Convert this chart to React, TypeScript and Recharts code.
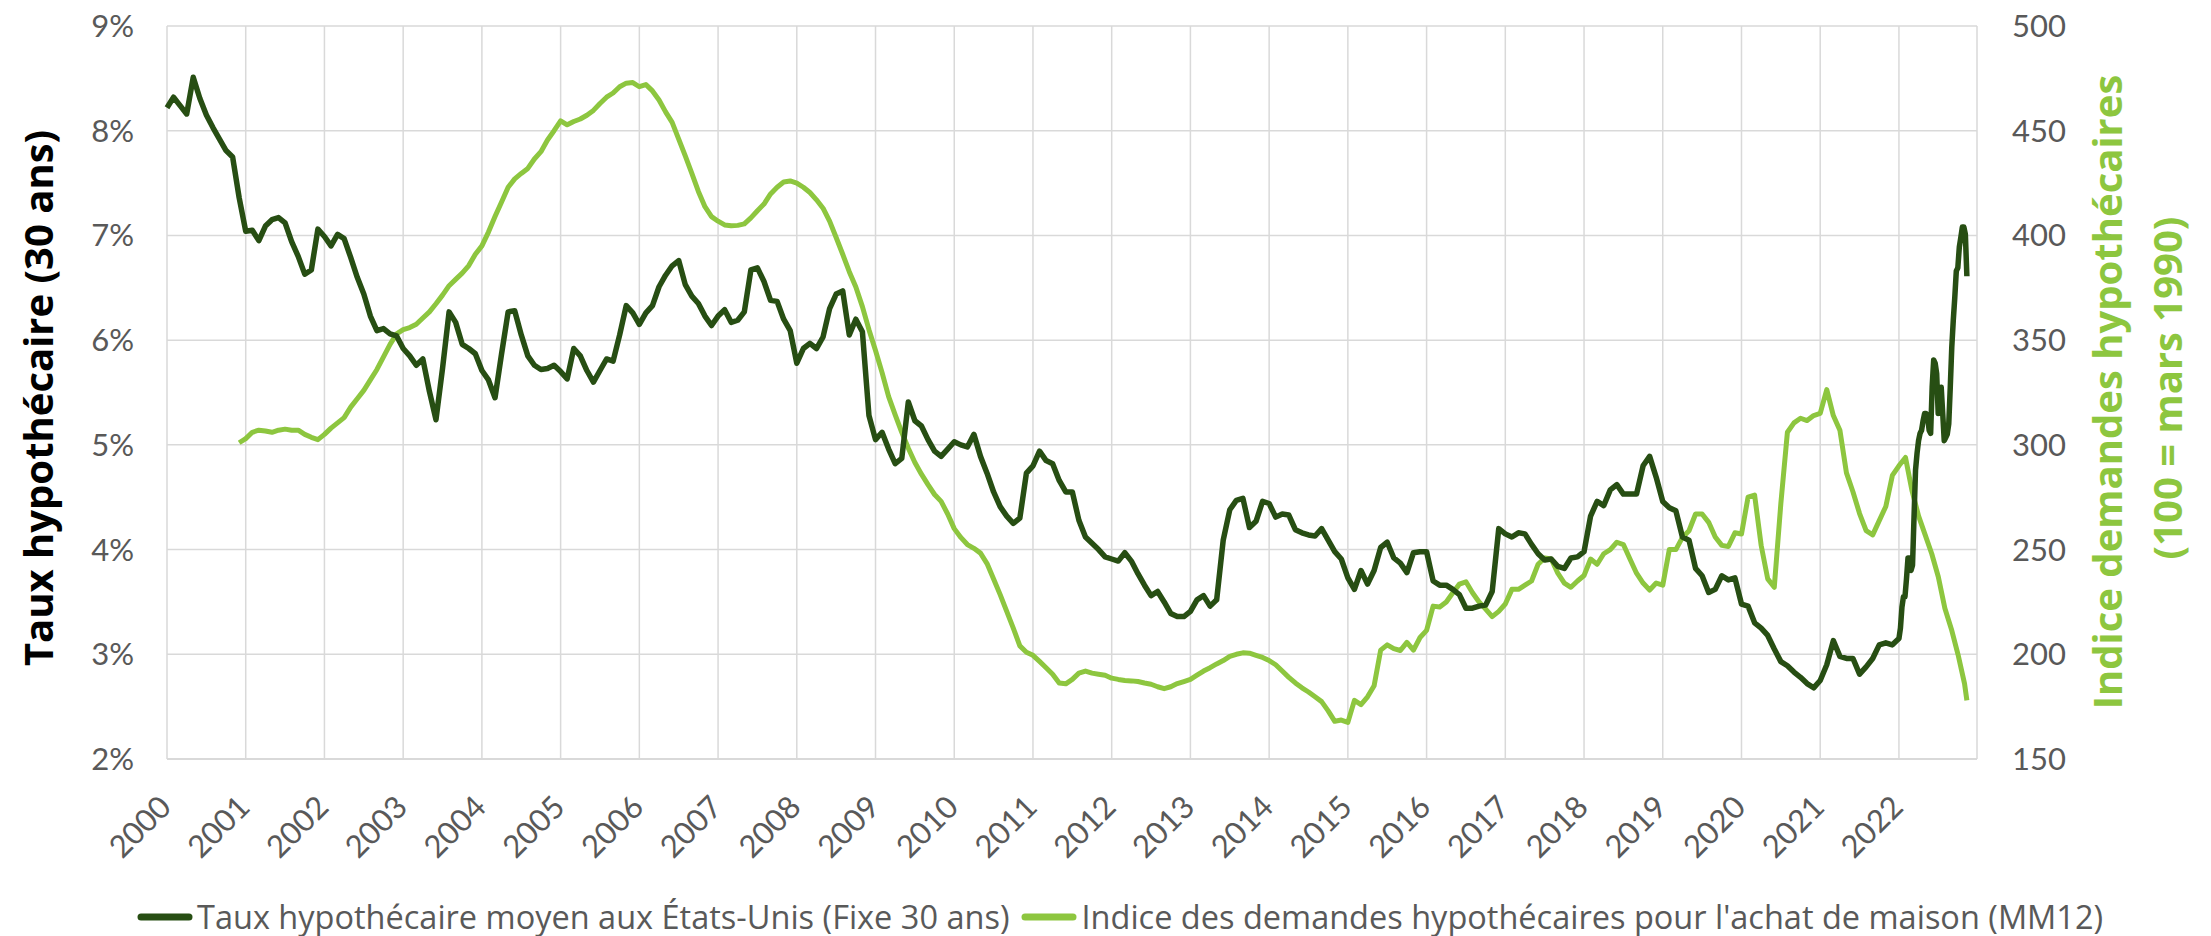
import { LineChart, Line, XAxis, YAxis, CartesianGrid, Legend, Label } from "recharts";

document.body.style.margin = "0";

const DARK = "#274E13";
const LIGHT = "#8DC63F";
const GRID = "#D9D9D9";
const TICK = "#595959";
const FONT = "Lato, 'Open Sans', sans-serif";
const TEXT_FONT = "'Open Sans', Lato, sans-serif";

// one tick per January
const years = [
  2000, 2001, 2002, 2003, 2004, 2005, 2006, 2007, 2008, 2009, 2010, 2011,
  2012, 2013, 2014, 2015, 2016, 2017, 2018, 2019, 2020, 2021, 2022,
];

// 30-year fixed rate (%), monthly, Jan 2000 -> Dec 2021
const rate2000s = [
  8.22, 8.32, 8.24, 8.16, 8.51, 8.31, 8.15, 8.03, 7.92, 7.81, 7.75, 7.36,
  7.04, 7.05, 6.95, 7.09, 7.15, 7.17, 7.12, 6.94, 6.8, 6.63, 6.67, 7.06,
  6.99, 6.9, 7.01, 6.97, 6.79, 6.6, 6.44, 6.23, 6.09, 6.11, 6.06, 6.04,
  5.92, 5.85, 5.76, 5.82, 5.51, 5.24, 5.73, 6.27, 6.17, 5.96, 5.92, 5.87,
  5.71, 5.62, 5.45, 5.87, 6.27, 6.28, 6.05, 5.85, 5.76, 5.72, 5.73, 5.76,
];
const rate2005s = [
  5.7, 5.63, 5.92, 5.85, 5.71, 5.6, 5.71, 5.82, 5.8, 6.05, 6.33, 6.26,
  6.15, 6.26, 6.33, 6.51, 6.62, 6.71, 6.76, 6.53, 6.42, 6.35, 6.23, 6.14,
  6.23, 6.29, 6.17, 6.19, 6.27, 6.67, 6.69, 6.56, 6.38, 6.37, 6.2, 6.09,
  5.78, 5.92, 5.97, 5.92, 6.03, 6.3, 6.44, 6.47, 6.05, 6.2, 6.08, 5.28,
  5.05, 5.12, 4.96, 4.82, 4.87, 5.41, 5.23, 5.18, 5.05, 4.94, 4.89, 4.96,
];
const rate2010s = [
  5.03, 5.0, 4.98, 5.1, 4.89, 4.73, 4.55, 4.41, 4.32, 4.25, 4.3, 4.73,
  4.8, 4.94, 4.85, 4.82, 4.66, 4.55, 4.55, 4.28, 4.12, 4.06, 4.0, 3.93,
  3.91, 3.89, 3.97, 3.89, 3.77, 3.66, 3.56, 3.6, 3.5, 3.39, 3.36, 3.36,
  3.41, 3.52, 3.56, 3.46, 3.52, 4.09, 4.38, 4.47, 4.49, 4.21, 4.27, 4.46,
  4.44, 4.31, 4.34, 4.33, 4.19, 4.16, 4.14, 4.13, 4.2, 4.09, 3.98, 3.91,
];
const rate2015s = [
  3.73, 3.62, 3.8, 3.67, 3.8, 4.02, 4.07, 3.92, 3.87, 3.78, 3.97, 3.98,
  3.98, 3.7, 3.66, 3.66, 3.62, 3.57, 3.44, 3.44, 3.46, 3.47, 3.6, 4.2,
  4.15, 4.12, 4.16, 4.15, 4.05, 3.96, 3.9, 3.91, 3.84, 3.82, 3.92, 3.93,
  3.98, 4.32, 4.46, 4.42, 4.57, 4.62, 4.53, 4.53, 4.53, 4.8, 4.89, 4.69,
  4.46, 4.4, 4.37, 4.12, 4.09, 3.82, 3.75, 3.59, 3.62, 3.75, 3.71, 3.73,
];
const rate2020s = [
  3.48, 3.46, 3.3, 3.25, 3.18, 3.05, 2.93, 2.89, 2.83, 2.78, 2.72, 2.68,
  2.75, 2.9, 3.13, 2.98, 2.96, 2.96, 2.81, 2.88, 2.96, 3.09, 3.11, 3.09,
];
// 2022, weekly
const rate2022 = [
  3.15, 3.25, 3.45, 3.55, 3.55, 3.72, 3.92, 3.92, 3.8, 3.85, 4.31, 4.76,
  4.92, 5.04, 5.11, 5.14, 5.23, 5.3, 5.3, 5.27, 5.14, 5.11, 5.55, 5.81,
  5.78, 5.68, 5.3, 5.49, 5.55, 5.3, 5.04, 5.07, 5.1, 5.2, 5.55, 5.93,
  6.19, 6.41, 6.66, 6.69, 6.89, 6.98, 7.08, 7.08, 7.01, 6.61,
];

// purchase applications index, 12-month average, monthly from Dec 2000
const index2000s = [
  301,
  303, 306, 307, 306.6, 306, 307, 307.5, 307, 307, 305, 303.6, 302.5,
  305, 308, 310.5, 313, 318, 322, 326, 331, 336, 342, 348, 353,
  355, 356, 357.6, 360.6, 363.5, 367.4, 371.5, 376, 379, 382, 385.6, 391,
  395, 401.6, 409, 416, 423, 427, 429.6, 432, 436.5, 440, 445.6, 450,
];
const index2005s = [
  454.7, 452.8, 454.4, 455.6, 457.4, 459.7, 463, 466, 468, 471, 472.7, 473,
  471, 472, 469, 464.7, 459, 454, 446, 438, 429.6, 421, 413.7, 409,
  406.8, 405, 404.6, 404.8, 405.5, 408.4, 411.8, 415, 419.8, 423, 425.5, 426,
  425, 423, 420.5, 417, 413, 406.8, 399, 391, 382.7, 375.4, 366, 355,
  345, 334.5, 323, 314.3, 306, 298.4, 291.6, 286, 281, 276.3, 273, 267,
];
const index2010s = [
  260, 255.8, 252.4, 250.6, 248.3, 243.3, 236, 228.5, 220.5, 212.5, 204, 201,
  199.5, 196.6, 193.6, 190.5, 186.3, 185.9, 188, 191, 192, 191, 190.5, 190,
  188.6, 188, 187.5, 187.3, 187, 186.3, 185.7, 184.5, 183.6, 184.5, 186, 187,
  188, 190, 192, 193.6, 195.4, 197, 199, 200, 200.7, 200.5, 199.5, 198.5,
  197, 195, 192, 189, 186.3, 184, 182, 179.7, 177.4, 173, 168, 168.6,
];
const index2015s = [
  167.5, 178, 176, 179.7, 185, 202, 204.5, 202.7, 201.8, 205.7, 202, 208,
  211.4, 223, 222.6, 225, 229.4, 233.5, 234.6, 229.4, 225, 221.6, 218, 220.5,
  224, 231, 231, 233, 235, 243, 246, 245.5, 238.7, 234, 232, 235,
  237.6, 245.5, 243, 248, 250, 253.5, 252.4, 245.5, 238.7, 234, 230.7, 234,
  233, 250, 250, 255.8, 259, 267, 267, 263, 256, 252, 251.5, 258,
];
const index2020s = [
  257.4, 275, 276, 252, 236, 232, 272, 306, 310.5, 312.7, 311.6, 314,
  315, 326.4, 314, 307, 286.6, 277.5, 267.2, 259, 257, 263.8, 270.6, 285.4,
  290, 294, 278, 266, 257, 248, 237, 222, 212, 200, 186,
];
const indexLastWeek = 178;

const legendItems = [
  { label: "Taux hypothécaire moyen aux États-Unis (Fixe 30 ans)", color: DARK },
  { label: "Indice des demandes hypothécaires pour l'achat de maison (MM12)", color: LIGHT },
];

type Row = { t: number; rate?: number; index?: number };

// x is months since Jan 2000
const weekT = (w: number) => 264 + (w * 12) / 52.14;

function buildData(): Row[] {
  const rows = new Map<number, Row>();
  const put = (t: number, key: "rate" | "index", v: number) => {
    const k = Math.round(t * 1000) / 1000;
    const row = rows.get(k) ?? { t: k };
    row[key] = v;
    rows.set(k, row);
  };
  [...rate2000s, ...rate2005s, ...rate2010s, ...rate2015s, ...rate2020s].forEach((v, i) => put(i, "rate", v));
  rate2022.forEach((v, w) => put(weekT(w), "rate", v));
  [...index2000s, ...index2005s, ...index2010s, ...index2015s, ...index2020s].forEach((v, i) => put(11 + i, "index", v));
  put(weekT(rate2022.length - 1), "index", indexLastWeek);
  return [...rows.values()].sort((a, b) => a.t - b.t);
}

const data = buildData();

function YearTick({ x, y, payload }: any) {
  const px = x + 6;
  const py = y + 50;
  return (
    <text x={px} y={py} textAnchor="end" transform={`rotate(-45 ${px} ${py})`} fill={TICK} fontSize={31} fontFamily={FONT}>
      {2000 + payload.value / 12}
    </text>
  );
}

function LegendRow() {
  return (
    <div style={{ display: "flex", alignItems: "center", paddingLeft: 137, fontFamily: TEXT_FONT, fontSize: 32.5, color: TICK, lineHeight: "40px", whiteSpace: "nowrap" }}>
      {legendItems.map((it, i) => (
        <div key={it.label} style={{ display: "flex", alignItems: "center", marginRight: i === 0 ? 12 : 0 }}>
          <svg width={56} height={10} style={{ marginRight: 4 }}>
            <line x1={4} y1={5} x2={52} y2={5} stroke={it.color} strokeWidth={7} strokeLinecap="round" />
          </svg>
          <span>{it.label}</span>
        </div>
      ))}
    </div>
  );
}

export default function App() {
  return (
    <div style={{ position: "relative", width: 2211, height: 936, background: "#fff" }}>
      <LineChart width={2211} height={936} data={data} margin={{ top: 26, right: 0, bottom: 0, left: 0 }}>
        <CartesianGrid yAxisId="left" stroke={GRID} strokeWidth={1.5} />
        <XAxis
          type="number"
          dataKey="t"
          domain={[0, 275.9]}
          ticks={years.map((y) => (y - 2000) * 12)}
          interval={0}
          height={177}
          tickSize={0}
          tickMargin={0}
          tickLine={false}
          axisLine={{ stroke: GRID, strokeWidth: 2 }}
          tick={<YearTick />}
        />
        <YAxis
          yAxisId="left"
          domain={[2, 9]}
          ticks={[2, 3, 4, 5, 6, 7, 8, 9]}
          tickFormatter={(v) => `${v}%`}
          width={167}
          tickSize={0}
          tickMargin={33}
          tickLine={false}
          axisLine={false}
          tick={{ fill: TICK, fontSize: 31, fontFamily: FONT }}
        >
          <Label
            content={() => (
              <text x={53} y={398} transform="rotate(-90 53 398)" textAnchor="middle" fontSize={40} fontWeight={700} fill="#000" fontFamily={TEXT_FONT}>
                Taux hypothécaire (30 ans)
              </text>
            )}
          />
        </YAxis>
        <YAxis
          yAxisId="right"
          orientation="right"
          domain={[150, 500]}
          ticks={[150, 200, 250, 300, 350, 400, 450, 500]}
          width={234}
          tickSize={0}
          tickMargin={35}
          tickLine={false}
          axisLine={false}
          tick={{ fill: TICK, fontSize: 31, fontFamily: FONT }}
        >
          <Label
            content={() => (
              <g fontFamily={TEXT_FONT} fontSize={40} fontWeight={700} fill={LIGHT}>
                <text x={2122} y={392} transform="rotate(-90 2122 392)" textAnchor="middle">
                  Indice demandes hypothécaires
                </text>
                <text x={2182} y={388} transform="rotate(-90 2182 388)" textAnchor="middle">
                  (100 = mars 1990)
                </text>
              </g>
            )}
          />
        </YAxis>
        <Line
          yAxisId="right"
          type="linear"
          dataKey="index"
          name={legendItems[1].label}
          stroke={LIGHT}
          strokeWidth={5}
          strokeLinejoin="round"
          dot={false}
          connectNulls
          isAnimationActive={false}
        />
        <Line
          yAxisId="left"
          type="linear"
          dataKey="rate"
          name={legendItems[0].label}
          stroke={DARK}
          strokeWidth={5.5}
          strokeLinejoin="round"
          dot={false}
          connectNulls
          isAnimationActive={false}
        />
        <Legend verticalAlign="middle" wrapperStyle={{ top: 897, left: 0, width: 2211 }} content={() => <LegendRow />} />
      </LineChart>
    </div>
  );
}
